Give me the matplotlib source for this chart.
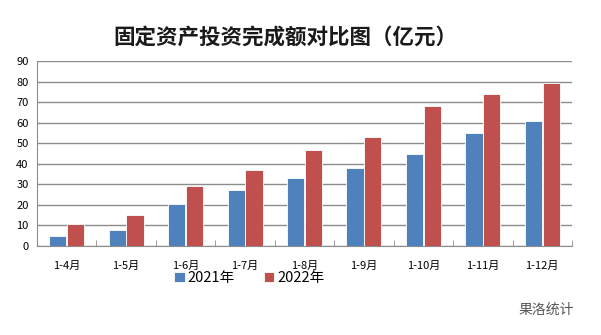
import matplotlib.pyplot as plt
import numpy as np

plt.rcParams['font.family'] = ['Noto Sans CJK SC', 'DejaVu Sans']

periods = ["1-4月", "1-5月", "1-6月", "1-7月", "1-8月", "1-9月", "1-10月", "1-11月", "1-12月"]
y2021 = [4.9, 7.8, 20.4, 27.2, 33.0, 38.0, 45.0, 54.8, 60.8]
y2022 = [10.7, 15.2, 29.3, 37.1, 46.7, 53.0, 68.1, 74.1, 79.4]

fig = plt.figure(figsize=(6.01, 3.35), dpi=100)
ax = fig.add_axes([37 / 601, 1 - 246 / 335, 535 / 601, 185 / 335])

x = np.arange(len(periods))
w = 0.29
ax.bar(x - w / 2 - 0.005, y2021, w, color="#4F81BD", edgecolor="white", linewidth=0.6,
       label="2021年", zorder=3)
ax.bar(x + w / 2 + 0.005, y2022, w, color="#C0504D", edgecolor="white", linewidth=0.6,
       label="2022年", zorder=3)

ax.set_xlim(-0.5, len(periods) - 0.5)
ax.set_ylim(0, 90)
ax.set_yticks(range(0, 91, 10))
ax.yaxis.grid(True, color="#8c8c8c", linewidth=1)
ax.set_axisbelow(True)
for s in ["top", "right"]:
    ax.spines[s].set_visible(False)
ax.spines["left"].set_color("#8c8c8c")
ax.spines["bottom"].set_color("#8c8c8c")
ax.tick_params(axis="y", length=0, labelsize=8, pad=6)

ax.set_xticks(x)
ax.set_xticklabels(periods, fontsize=8)
ax.tick_params(axis="x", length=0, pad=11)
ax.set_xticks(np.arange(-0.5, len(periods)), minor=True)
ax.tick_params(axis="x", which="minor", length=4, color="#8c8c8c", direction="in")

fig.text(0.475, 0.89, "固定资产投资完成额对比图（亿元）", ha="center", va="center",
         fontsize=15.5, fontweight="bold", color="#1a1a1a")

fig.legend(loc="center", bbox_to_anchor=(0.415, 0.17), ncol=2, frameon=False,
           fontsize=10.5, handlelength=0.7, handleheight=0.7, handletextpad=0.2,
           columnspacing=2.0)

fig.text(0.955, 0.075, "果洛统计", ha="right", va="center", fontsize=10, color="#555555")

fig.savefig("out.png", dpi=100)
